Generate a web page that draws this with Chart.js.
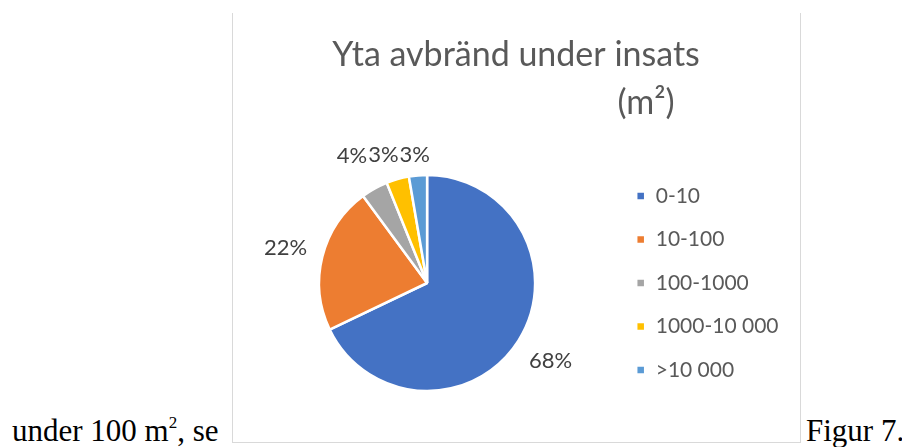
<!DOCTYPE html>
<html>
<head>
<meta charset="utf-8">
<script src="https://cdn.jsdelivr.net/npm/chart.js@4.4.0/dist/chart.umd.min.js"></script>
<style>
  body { margin: 0; background: #fff; width: 902px; height: 447px; overflow: hidden; position: relative; }
  #ram { position: absolute; left: 232px; top: 13px; width: 567px; height: 429px; border: 1px solid #d9d9d9; border-top: none; }
  #yta { position: absolute; left: 233px; top: 13px; }
  .brodtext { position: absolute; font-family: 'Liberation Serif', serif; font-size: 31px; line-height: 31px; color: #000; white-space: nowrap; }
  .brodtext sup { font-size: 55%; vertical-align: 0.75em; line-height: 0; }
</style>
</head>
<body>
<div class="brodtext" style="left:12px;top:415px">under 100 m<sup>2</sup>, se</div>
<div id="ram"></div>
<canvas id="yta" width="567" height="429"></canvas>
<div class="brodtext" style="left:806px;top:415px">Figur 7.</div>
<script>
// data
const kategorier = ['0-10', '10-100', '100-1000', '1000-10 000', '>10 000'];
const andelar = [67.9, 22.0, 4.0, 3.4, 2.7];
const farger = ['#4472C4', '#ED7D31', '#A5A5A5', '#FFC000', '#5B9BD5'];
const rubrik = ['Yta avbränd under insats', '(m²)'];

// rubriken: andra raden ligger förskjuten åt höger som i Excel
const rubrikPlugin = {
  id: 'rubrik',
  afterDraw(chart) {
    const ctx = chart.ctx;
    ctx.save();
    ctx.fillStyle = '#595959';
    ctx.font = '34px Lato';
    ctx.textAlign = 'center';
    ctx.textBaseline = 'alphabetic';
    ctx.fillText(rubrik[0], 283, 53);
    ctx.fillText(rubrik[1], 413, 101);
    ctx.restore();
  }
};

// procentetiketter utanför tårtbitarna
const etiketter = {
  id: 'etiketter',
  afterDatasetsDraw(chart) {
    const ctx = chart.ctx;
    const meta = chart.getDatasetMeta(0);
    const total = andelar.reduce((a, b) => a + b, 0);
    ctx.save();
    ctx.font = '22px Lato';
    ctx.fillStyle = '#404040';
    ctx.textAlign = 'center';
    ctx.textBaseline = 'middle';
    const pos = meta.data.map((arc, i) => {
      const p = arc.getProps(['x', 'y', 'startAngle', 'endAngle', 'outerRadius'], true);
      const mid = (p.startAngle + p.endAngle) / 2;
      const r = p.outerRadius + 38;
      const text = Math.round(andelar[i] / total * 100) + '%';
      let x = p.x + Math.cos(mid) * r;
      let y = p.y + Math.sin(mid) * r;
      y = Math.max(y, p.y - p.outerRadius - 20);
      return { x, y, text, w: ctx.measureText(text).width };
    });
    // skjut ihop små etiketter så de inte överlappar
    for (let i = pos.length - 2; i >= 0; i--) {
      const a = pos[i], b = pos[i + 1];
      if (Math.abs(a.y - b.y) < 20 && a.x + a.w / 2 > b.x - b.w / 2 - 1) {
        a.x = b.x - b.w / 2 - 1 - a.w / 2;
      }
    }
    pos.forEach(p => ctx.fillText(p.text, p.x, p.y));
    ctx.restore();
  }
};

new Chart(document.getElementById('yta'), {
  type: 'pie',
  data: {
    labels: kategorier,
    datasets: [{
      data: andelar,
      backgroundColor: farger,
      borderColor: '#ffffff',
      borderWidth: 2.5,
      radius: 108
    }]
  },
  options: {
    responsive: false,
    devicePixelRatio: 1,
    animation: false,
    events: [],
    layout: { padding: { left: 7.5, right: 11.5, top: 120, bottom: 9 } },
    plugins: {
      tooltip: { enabled: false },
      title: { display: false },
      legend: {
        position: 'right',
        align: 'center',
        labels: {
          boxWidth: 9,
          boxHeight: 9,
          padding: 22.5,
          color: '#595959',
          font: { family: 'Lato', size: 21 }
        }
      }
    }
  },
  plugins: [rubrikPlugin, etiketter]
});
</script>
</body>
</html>
